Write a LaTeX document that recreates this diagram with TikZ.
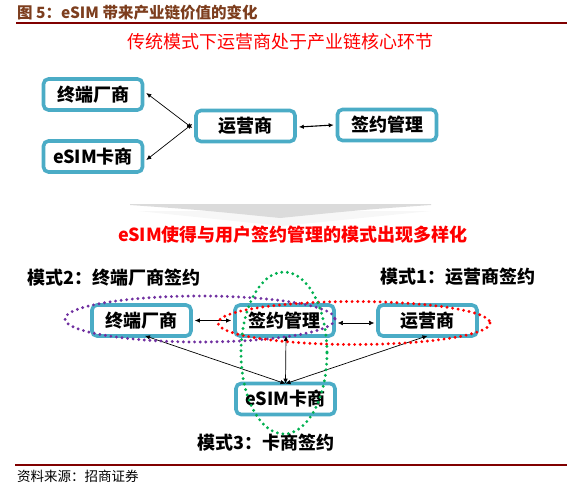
\documentclass[tikz,border=0pt]{standalone}
\usepackage{fontspec}
\setmainfont{Noto Sans CJK SC}
\usetikzlibrary{arrows.meta}
\definecolor{boxteal}{RGB}{75,172,198}
\definecolor{titlebrown}{RGB}{125,62,30}
\definecolor{rulered}{RGB}{128,0,0}
\definecolor{epurple}{RGB}{112,48,160}
\definecolor{ered}{RGB}{255,0,0}
\definecolor{egreen}{RGB}{0,176,80}
\tikzset{
  ent/.style={draw=boxteal, line width=3.6pt, rounded corners=5pt, fill=white,
    minimum width=99pt, minimum height=31pt, inner sep=0pt,
    font=\fontsize{18}{20}\selectfont\bfseries},
  link/.style={{Latex[length=5pt,width=4.5pt]}-{Latex[length=5pt,width=4.5pt]}, line width=0.7pt, black},
  ring/.style={line width=3.2pt, dash pattern=on 0pt off 5.6pt, line cap=round},
  modelab/.style={font=\fontsize{18}{20}\selectfont\bfseries, inner sep=0pt}
}
\begin{document}
\begin{tikzpicture}[x=1pt,y=-1pt]
\useasboundingbox (0,0) rectangle (585,486);
% header
\node[anchor=west, inner sep=0pt, text=titlebrown, font=\fontsize{15.5}{17}\selectfont\bfseries] (title) at (17,13) {图 5：eSIM 带来产业链价值的变化};
\coordinate (r1a) at (16,23);
\coordinate (r1b) at (567,23);
\draw[rulered, line width=1.3pt] (r1a) -- (r1b);
\node[text=ered, inner sep=0pt, font=\fontsize{18}{20}\selectfont] (h1) at (280,42) {传统模式下运营商处于产业链核心环节};

% top section
\node[ent] (t1) at (93,94.5) {终端厂商};
\node[ent] (t2) at (93,156.5) {eSIM卡商};
\node[ent] (t3) at (245.5,126) {运营商};
\node[ent] (t4) at (387,125) {签约管理};
\draw[link] ([xshift=2pt,yshift=1.5pt]t1.east) -- ([xshift=-2pt,yshift=-2pt]t3.west);
\draw[link] ([xshift=2pt,yshift=-3.5pt]t2.east) -- ([xshift=-2pt,yshift=2pt]t3.west);
\draw[link, line width=1.1pt] ([xshift=2pt,yshift=-1pt]t3.east) -- ([xshift=-2pt]t4.west);

% chevron
\fill[gray!6] (138,211) -- (431,211) -- (282,226) -- cycle;
\fill[gray!28] (130,204) -- (431,204) -- (431,205) .. controls (360,210) .. (280,218) .. controls (200,210) .. (130,205) -- cycle;

\node[text=ered, inner sep=0pt, font=\fontsize{18}{20}\selectfont\bfseries] (h2) at (293,235) {eSIM使得与用户签约管理的模式出现多样化};

% mode labels
\node[modelab, anchor=west] (m2) at (27,278) {模式2：终端厂商签约};
\node[modelab, anchor=west] (m1) at (380,277) {模式1：运营商签约};
\node[modelab] (m3) at (266,443) {模式3：卡商签约};

% bottom section
\node[ent] (b1) at (141.5,320.5) {终端厂商};
\node[ent] (b2) at (284.5,320.5) {签约管理};
\node[ent] (b3) at (427.5,320.5) {运营商};
\node[ent] (b4) at (285.5,399) {eSIM卡商};
\draw[link] ([xshift=2pt]b1.east) -- ([xshift=-2pt]b2.west);
\draw[link, line width=0.5pt] ([xshift=2pt,yshift=-2.5pt]b2.east) -- ([xshift=-2pt,yshift=-2.5pt]b3.west);
\draw[link] ([xshift=1.5pt,yshift=2pt]b2.south) -- ([yshift=-2pt]b4.north);
\draw[link] ([xshift=3.5pt,yshift=2pt]b1.south) -- ([yshift=-2pt]b4.north);
\draw[link] ([yshift=2pt]b3.south) -- ([yshift=-2pt]b4.north);

% dotted rings
\coordinate (pc) at (200,319);
\coordinate (rc) at (354,323);
\coordinate (gc) at (284,353);
\draw[ring, epurple] (pc) ellipse [x radius=135, y radius=23];
\draw[ring, ered] (rc) ellipse [x radius=136, y radius=21.5];
\draw[ring, egreen] (gc) ellipse [x radius=43, y radius=81];

% footer
\coordinate (r2a) at (15,465);
\coordinate (r2b) at (567,465);
\draw[rulered, line width=2.6pt] (r2a) -- (r2b);
\node[anchor=west, inner sep=0pt, font=\fontsize{13.5}{15}\selectfont] (src) at (17,476) {资料来源：招商证券};
\end{tikzpicture}
\end{document}
